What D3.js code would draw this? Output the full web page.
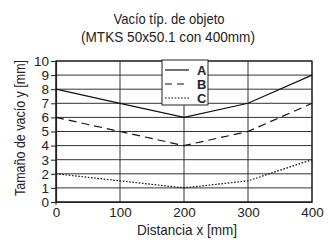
<!DOCTYPE html>
<html>
<head>
<meta charset="utf-8">
<script src="https://cdn.jsdelivr.net/npm/d3@7"></script>
<style>
  body { margin: 0; background: #fff; }
  svg text { font-family: "Liberation Sans Narrow", "Liberation Sans", Arial, sans-serif; fill: #222; }
</style>
</head>
<body>
<div id="chart"></div>
<script>
var distances = [0, 100, 200, 300, 400];
var seriesA = [8, 7, 6, 7, 9];
var seriesB = [6, 5, 4, 5, 7];
var seriesC = [2, 1.5, 1, 1.5, 3];
var seriesNames = ["A", "B", "C"];
var xTicks = [0, 100, 200, 300, 400];
var yTicks = [0, 1, 2, 3, 4, 5, 6, 7, 8, 9, 10];

var W = 335, H = 240;
var margin = {top: 61, right: 23, bottom: 38, left: 56};
var width = W - margin.left - margin.right,
	height = H - margin.top - margin.bottom;

var svg = d3.select("#chart").append("svg")
	.attr("width", W)
	.attr("height", H);

// title (condensed like the original)
svg.append("text").attr("x", 169).attr("y", 24)
	.attr("text-anchor", "middle").style("font-size", "14.5px")
	.attr("textLength", 111).attr("lengthAdjust", "spacingAndGlyphs")
	.text("Vacío típ. de objeto");
svg.append("text").attr("x", 168).attr("y", 42)
	.attr("text-anchor", "middle").style("font-size", "14.5px")
	.attr("textLength", 174).attr("lengthAdjust", "spacingAndGlyphs")
	.text("(MTKS 50x50.1 con 400mm)");

var g = svg.append("g")
	.attr("transform", "translate(" + margin.left + "," + margin.top + ")");

var x = d3.scaleLinear().domain([0, 400]).range([0, width]);
var y = d3.scaleLinear().domain([0, 10]).range([height, 0]);

// grid
g.append("g").selectAll("line")
	.data(yTicks)
  .enter().append("line")
	.attr("x1", 0).attr("x2", width)
	.attr("y1", function(d) { return y(d); })
	.attr("y2", function(d) { return y(d); })
	.attr("stroke", "#333").attr("stroke-width", 1);
g.append("g").selectAll("line")
	.data(xTicks)
  .enter().append("line")
	.attr("y1", 0).attr("y2", height)
	.attr("x1", function(d) { return x(d); })
	.attr("x2", function(d) { return x(d); })
	.attr("stroke", "#333").attr("stroke-width", 1);

// axes
var yAxis = g.append("g")
	.call(d3.axisLeft(y).tickValues(yTicks).tickSize(5).tickPadding(2).tickFormat(d3.format("d")));
var xAxis = g.append("g")
	.attr("transform", "translate(0," + height + ")")
	.call(d3.axisBottom(x).tickValues(xTicks).tickSize(0).tickPadding(5));
[yAxis, xAxis].forEach(function(a) {
	a.select(".domain").attr("stroke", "#222").attr("stroke-width", 1.2);
	a.selectAll(".tick line").attr("stroke", "#222");
	a.selectAll("text").style("font-size", "13.5px").style("font-family", "'Liberation Sans', Arial, sans-serif").attr("fill", "#222");
});
// small stub below the origin
g.append("line").attr("x1", 0).attr("x2", 0).attr("y1", height).attr("y2", height + 3)
	.attr("stroke", "#222");

// frame
g.append("rect").attr("width", width).attr("height", height)
	.attr("fill", "none").attr("stroke", "#222").attr("stroke-width", 1.2);

// axis titles
svg.append("text")
	.attr("transform", "translate(25," + 128 + ") rotate(-90)")
	.attr("text-anchor", "middle").style("font-size", "14.5px")
	.attr("textLength", 136).attr("lengthAdjust", "spacingAndGlyphs")
	.text("Tamaño de vacío y [mm]");
svg.append("text").attr("x", 187).attr("y", 235)
	.attr("text-anchor", "middle").style("font-size", "14.5px")
	.attr("textLength", 100).attr("lengthAdjust", "spacingAndGlyphs")
	.text("Distancia x [mm]");

// series
var dashes = [null, "8,5", "1.6,1.6"];
var line = d3.line()
	.x(function(d, i) { return x(distances[i]); })
	.y(function(d) { return y(d); });
[seriesA, seriesB, seriesC].forEach(function(s, i) {
	g.append("path")
		.attr("d", line(s))
		.attr("fill", "none")
		.attr("stroke", "#111")
		.attr("stroke-width", 1.2)
		.attr("stroke-dasharray", dashes[i]);
});

// legend
var leg = svg.append("g").attr("transform", "translate(162,60)");
leg.append("rect").attr("width", 46).attr("height", 45)
	.attr("fill", "#fff").attr("stroke", "#222").attr("stroke-width", 1);
seriesNames.forEach(function(n, i) {
	var yy = 10 + i * 14;
	leg.append("line").attr("x1", 3).attr("x2", 27)
		.attr("y1", yy).attr("y2", yy)
		.attr("stroke", "#111").attr("stroke-width", 1.2)
		.attr("stroke-dasharray", i === 1 ? "7,5" : dashes[i]);
	leg.append("text").attr("x", 35).attr("y", yy + 4.5)
		.style("font-size", "13px").style("font-weight", "bold")
		.style("font-family", "'Liberation Sans', Arial, sans-serif")
		.text(n);
});
</script>
</body>
</html>
